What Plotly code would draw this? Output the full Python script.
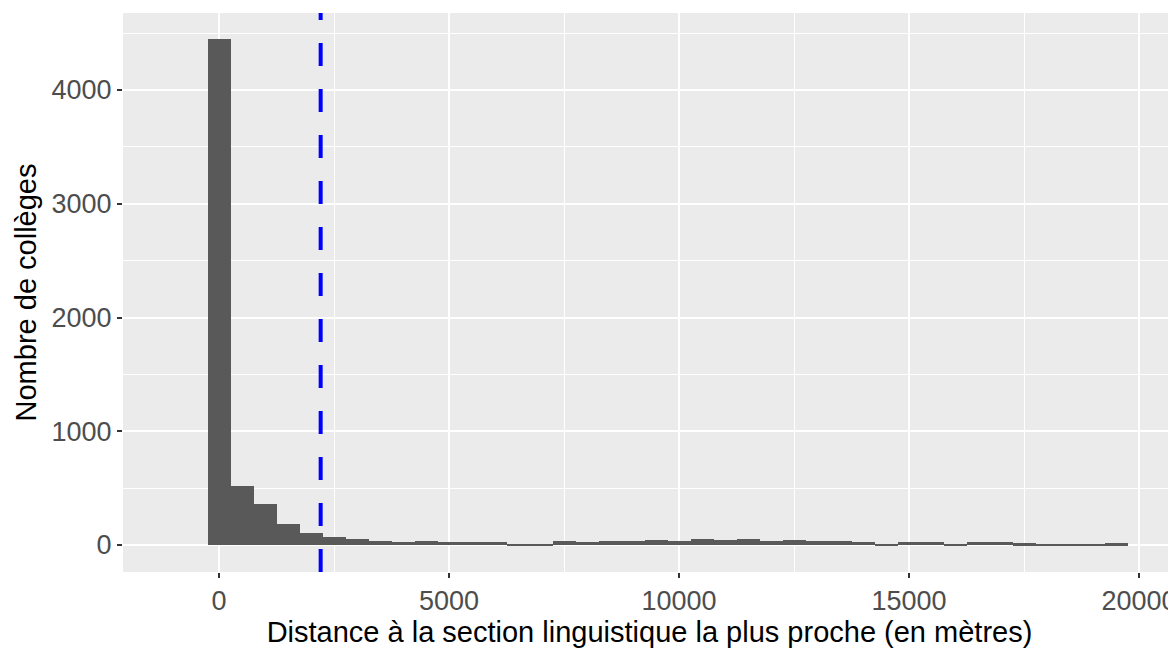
import plotly.graph_objects as go

bin_centers = [i * 500 for i in range(40)]
counts = [4448, 519, 360, 185, 103, 67, 50, 35, 29, 32,
          29, 23, 29, 12, 12, 32, 29, 32, 32, 41,
          35, 50, 41, 53, 35, 44, 35, 32, 29, 12,
          25, 23, 12, 26, 23, 15, 6, 6, 6, 15]
mean_distance = 2210
x_ticks = [0, 5000, 10000, 15000, 20000]
y_ticks = [0, 1000, 2000, 3000, 4000]

fig = go.Figure()
fig.add_trace(go.Bar(x=bin_centers, y=counts, width=500,
                     marker=dict(color="#595959", line=dict(width=0)),
                     showlegend=False))
fig.add_shape(type="line", xref="x", yref="paper", x0=mean_distance, x1=mean_distance,
              y0=0, y1=1, line=dict(color="#0000FF", width=4, dash="23px,23px"))

font = "Liberation Sans, Arial, sans-serif"
fig.update_layout(
    width=1168, height=643,
    margin=dict(l=115, r=0, t=5, b=79),
    paper_bgcolor="white", plot_bgcolor="#EBEBEB",
    bargap=0,
    font=dict(family=font),
    xaxis=dict(range=[-2087, 20804], tickvals=x_ticks, ticktext=[str(v) for v in x_ticks],
               showgrid=True, gridcolor="white", gridwidth=2.2,
               minor=dict(tickvals=[2500, 7500, 12500, 17500], showgrid=True,
                          gridcolor="white", gridwidth=1.1, ticks=""),
               ticks="outside", ticklen=5, tickwidth=2, tickcolor="#333333",
               ticklabeloverflow="allow",
               tickfont=dict(size=27, color="#4D4D4D", family=font),
               title=dict(text="Distance à la section linguistique la plus proche (en mètres)",
                          font=dict(size=29, color="black", family=font), standoff=5),
               zeroline=False, showline=False),
    yaxis=dict(range=[-237, 4677], tickvals=y_ticks, ticktext=[str(v) for v in y_ticks],
               showgrid=True, gridcolor="white", gridwidth=2.2,
               minor=dict(tickvals=[500, 1500, 2500, 3500, 4500], showgrid=True,
                          gridcolor="white", gridwidth=1.1, ticks=""),
               ticks="outside", ticklen=5, tickwidth=2, tickcolor="#333333",
               tickfont=dict(size=27, color="#4D4D4D", family=font),
               title=dict(text="Nombre de collèges",
                          font=dict(size=29, color="black", family=font), standoff=6),
               zeroline=False, showline=False),
)
fig.write_html("out.html")
